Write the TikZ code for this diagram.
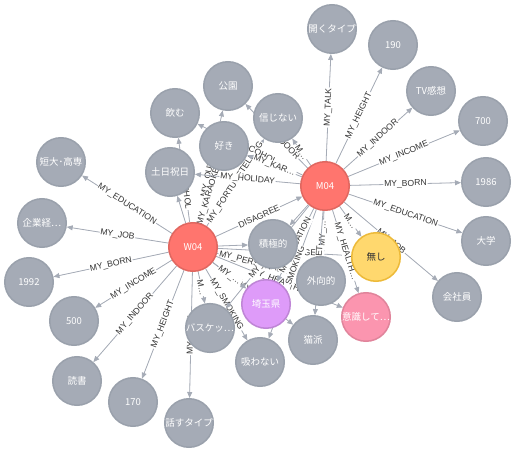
\documentclass[tikz,border=0pt]{standalone}
\usepackage{fontspec}
\setmainfont{Liberation Sans}
\newfontfamily\jpfont{Noto Sans CJK JP}
\usepackage{tikz}
\usetikzlibrary{arrows.meta}
\usetikzlibrary{backgrounds}
\definecolor{propgray}{HTML}{A5ABB6}
\definecolor{propgrayline}{HTML}{9AA1AC}
\definecolor{personred}{HTML}{FF756E}
\definecolor{personredline}{HTML}{E06760}
\definecolor{noneyellow}{HTML}{FFD86E}
\definecolor{noneyellowline}{HTML}{EDBA39}
\definecolor{prefpurple}{HTML}{DE9BF9}
\definecolor{prefpurpleline}{HTML}{BF85D6}
\definecolor{healthpink}{HTML}{FB95AF}
\definecolor{healthpinkline}{HTML}{E0849B}
\definecolor{reltext}{HTML}{333333}
\tikzset {
  >={Triangle[length=6pt,width=5pt]},
  % property vertex (gray)
  main/.style = {draw=propgrayline, fill=propgray, circle, line width=1.5pt,
    minimum size=48.5pt, inner sep=0pt, text=white,
    font=\jpfont\fontsize{9.5}{10}\selectfont},
  % the two people
  person/.style={draw=personredline, fill=personred},
  % other node labels
  nothing/.style={draw=noneyellowline, fill=noneyellow, text=black!80},
  prefecture/.style={draw=prefpurpleline, fill=prefpurple},
  health/.style={draw=healthpinkline, fill=healthpink},
  % relationships
  rel/.style={->, draw=propgray, fill=propgray, line width=0.8pt},
  mid/.style={midway, sloped, fill=white, inner sep=0.8pt, text=reltext,
    font=\fontsize{8.6}{9}\selectfont},
}

\begin{document}
\begin{tikzpicture}[x=1pt,y=-1pt]
      \useasboundingbox (0,0) rectangle (515,452);

      \node[main, person] (w) at (193,247) {W04};
      \node[main, person] (m) at (325,186) {M04};

      % W04 only
      \node[main] (w1) at (61,162) {短大･高専};
      \node[main] (w2) at (42,223) {企業経…};
      \node[main] (w3) at (29,282) {1992};
      \node[main] (w4) at (74,321) {500};
      \node[main] (w5) at (77,381) {読書};
      \node[main] (w6) at (133,402) {170};
      \node[main] (w7) at (189,423) {話すタイプ};

      % M04 only
      \node[main] (m1) at (332,29) {開くタイプ};
      \node[main] (m2) at (393,45) {190};
      \node[main] (m3) at (431,91) {TV感想};
      \node[main] (m4) at (483,121) {700};
      \node[main] (m5) at (486,182) {1986};
      \node[main] (m6) at (486,241) {大学};
      \node[main] (m7) at (457,297) {会社員};

      % shared
      \node[main] (1) at (170,172) {土日祝日};
      \node[main] (2) at (175,113) {飲む};
      \node[main] (3) at (228,86) {公園};
      \node[main] (4) at (224,146) {好き};
      \node[main] (5) at (278,118) {信じない};
      \node[main] (6) at (273,244) {積極的};
      \node[main] (7) at (321,281) {外向的};
      \node[main, nothing] (8) at (376,257) {無し};
      \node[main, health] (9) at (366,317) {意識して…};
      \node[main] (10) at (313,340) {猫派};
      \node[main] (11) at (260,362) {吸わない};
      \node[main, prefecture] (12) at (266,304) {埼玉県};
      \node[main] (13) at (210,328) {バスケッ…};

      \begin{scope}[on background layer]
      \draw [rel] (w) -- node[mid] {MY\_EDUCATION} (w1);
      \draw [rel] (w) -- node[mid] {MY\_JOB} (w2);
      \draw [rel] (w) -- node[mid] {MY\_BORN} (w3);
      \draw [rel] (w) -- node[mid] {MY\_INCOME} (w4);
      \draw [rel] (w) -- node[mid] {MY\_INDOOR} (w5);
      \draw [rel] (w) -- node[mid] {MY\_HEIGHT} (w6);
      \draw [rel] (w) -- node[mid] {MY\_TALK} (w7);

      \draw [rel] (m) -- node[mid] {MY\_TALK} (m1);
      \draw [rel] (m) -- node[mid] {MY\_HEIGHT} (m2);
      \draw [rel] (m) -- node[mid] {MY\_INDOOR} (m3);
      \draw [rel] (m) -- node[mid] {MY\_INCOME} (m4);
      \draw [rel] (m) -- node[mid] {MY\_BORN} (m5);
      \draw [rel] (m) -- node[mid] {MY\_EDUCATION} (m6);
      \draw [rel] (m) -- node[mid] {MY\_JOB} (m7);

      \draw [rel] (w) -- node[mid] {DISAGREE} (m);

      \draw [rel] (w) -- (1);
      \draw [rel] (w) -- node[mid] {MY\_ALCOHOL} (2);
      \draw [rel] (w) -- node[mid] {MY\_OUTDOOR} (3);
      \draw [rel] (w) -- node[mid] {MY\_KARAOKE} (4);
      \draw [rel] (w) -- node[mid] {MY\_FORTUNETELLING} (5);
      \draw [rel] (w) -- (6);
      \draw [rel] (w) -- node[mid] {MY\_PERSONALITY} (7);
      \draw [rel] (w) -- node[mid] {MY\_MARRIAGE} (8);
      \draw [rel] (w) -- node[mid] {MY\_HEALTH…} (9);
      \draw [rel] (w) -- node[mid] {MY\_PET} (10);
      \draw [rel] (w) -- node[mid] {MY\_SMOKING} (11);
      \draw [rel] (w) -- node[mid] {MY\_…} (12);
      \draw [rel] (w) -- node[mid] {M…} (13);

      \draw [rel] (m) -- node[mid] {MY\_HOLIDAY} (1);
      \draw [rel] (m) -- node[mid] {MY\_ALCOHOL} (2);
      \draw [rel] (m) -- node[mid] {MY\_OUTDOOR} (3);
      \draw [rel] (m) -- node[mid] {MY\_KAR…} (4);
      \draw [rel] (m) -- node[mid] {M…} (5);
      \draw [rel] (m) -- (6);
      \draw [rel] (m) -- node[mid] {MY\_…} (7);
      \draw [rel] (m) -- node[mid] {M…} (8);
      \draw [rel] (m) -- node[mid] {MY\_HEALTH…} (9);
      \draw [rel] (m) -- node[mid] {MY\_PET} (10);
      \draw [rel] (m) -- node[mid] {MY\_SMOKING} (11);
      \draw [rel] (m) -- node[mid] {MY\_LOCATION} (12);
      \draw [rel] (m) -- node[mid] {MY\_SPORTS} (13);
      \end{scope}
    \end{tikzpicture}
\end{document}
